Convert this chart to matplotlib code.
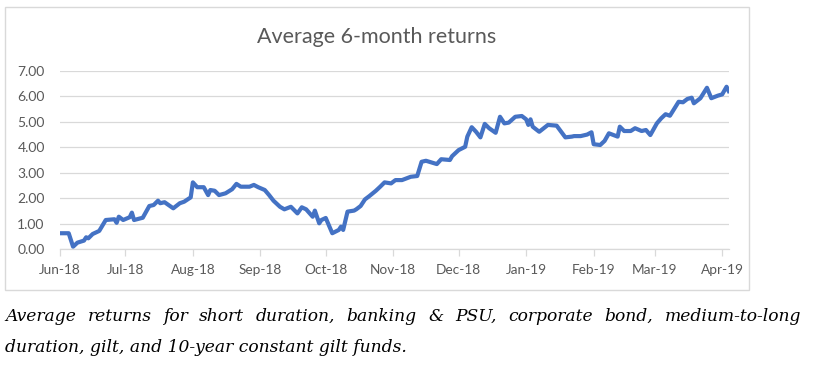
import numpy as np
import pandas as pd
import matplotlib
matplotlib.use("Agg")
import matplotlib.pyplot as plt
import matplotlib.dates as mdates
from matplotlib.patches import Rectangle

# values
DATES = [
    "2018-06-01", "2018-06-05", "2018-06-07", "2018-06-09", "2018-06-12", "2018-06-13",
    "2018-06-14", "2018-06-16", "2018-06-19", "2018-06-22", "2018-06-26", "2018-06-27",
    "2018-06-28", "2018-06-30", "2018-07-03", "2018-07-04", "2018-07-05", "2018-07-09",
    "2018-07-12", "2018-07-14", "2018-07-16", "2018-07-17", "2018-07-19", "2018-07-23",
    "2018-07-26", "2018-07-28", "2018-07-31", "2018-08-01", "2018-08-03", "2018-08-06",
    "2018-08-08", "2018-08-09", "2018-08-11", "2018-08-13", "2018-08-16", "2018-08-19",
    "2018-08-21", "2018-08-23", "2018-08-27", "2018-08-29", "2018-08-31", "2018-09-03",
    "2018-09-05", "2018-09-07", "2018-09-10", "2018-09-12", "2018-09-15", "2018-09-18",
    "2018-09-20", "2018-09-22", "2018-09-25", "2018-09-26", "2018-09-28", "2018-09-29",
    "2018-10-01", "2018-10-04", "2018-10-07", "2018-10-08", "2018-10-09", "2018-10-11",
    "2018-10-14", "2018-10-15", "2018-10-17", "2018-10-19", "2018-10-21", "2018-10-24",
    "2018-10-26", "2018-10-28", "2018-10-31", "2018-11-02", "2018-11-05", "2018-11-09",
    "2018-11-12", "2018-11-14", "2018-11-16", "2018-11-21", "2018-11-23", "2018-11-27",
    "2018-11-28", "2018-12-01", "2018-12-04", "2018-12-05", "2018-12-07", "2018-12-09",
    "2018-12-11", "2018-12-13", "2018-12-15", "2018-12-18", "2018-12-20", "2018-12-22",
    "2018-12-24", "2018-12-27", "2018-12-30", "2019-01-01", "2019-01-02", "2019-01-03",
    "2019-01-04", "2019-01-07", "2019-01-11", "2019-01-15", "2019-01-19", "2019-01-22",
    "2019-01-23", "2019-01-26", "2019-01-29", "2019-01-31", "2019-02-01", "2019-02-04",
    "2019-02-06", "2019-02-08", "2019-02-12", "2019-02-13", "2019-02-15", "2019-02-18",
    "2019-02-20", "2019-02-23", "2019-02-25", "2019-02-27", "2019-03-02", "2019-03-04",
    "2019-03-06", "2019-03-08", "2019-03-12", "2019-03-14", "2019-03-16", "2019-03-18",
    "2019-03-19", "2019-03-22", "2019-03-25", "2019-03-27", "2019-03-30", "2019-04-01",
    "2019-04-03", "2019-04-04",
]
RETURNS = [
    0.62, 0.62, 0.09, 0.25, 0.33, 0.46,
    0.42, 0.59, 0.71, 1.14, 1.17, 1.03,
    1.27, 1.14, 1.25, 1.43, 1.14, 1.23,
    1.69, 1.73, 1.90, 1.80, 1.84, 1.60,
    1.80, 1.86, 2.03, 2.62, 2.43, 2.43,
    2.12, 2.32, 2.29, 2.12, 2.19, 2.35,
    2.56, 2.45, 2.45, 2.52, 2.43, 2.32,
    2.12, 1.90, 1.66, 1.56, 1.66, 1.40,
    1.64, 1.56, 1.27, 1.51, 1.01, 1.14,
    1.22, 0.62, 0.75, 0.88, 0.75, 1.47,
    1.51, 1.56, 1.69, 1.95, 2.08, 2.29,
    2.45, 2.62, 2.58, 2.71, 2.71, 2.84,
    2.87, 3.43, 3.47, 3.34, 3.53, 3.50,
    3.65, 3.89, 4.02, 4.42, 4.79, 4.61,
    4.39, 4.92, 4.75, 4.57, 5.20, 4.94,
    4.97, 5.20, 5.23, 5.10, 4.88, 5.10,
    4.81, 4.61, 4.88, 4.85, 4.39, 4.42,
    4.44, 4.44, 4.50, 4.59, 4.12, 4.09,
    4.25, 4.55, 4.42, 4.81, 4.64, 4.64,
    4.75, 4.64, 4.68, 4.48, 4.94, 5.14,
    5.30, 5.24, 5.79, 5.77, 5.90, 5.95,
    5.73, 5.93, 6.34, 5.93, 6.03, 6.08,
    6.38, 6.21,
]
MONTHS = ["2018-06-01", "2018-07-01", "2018-08-01", "2018-09-01", "2018-10-01",
          "2018-11-01", "2018-12-01", "2019-01-01", "2019-02-01", "2019-03-01",
          "2019-04-01"]
Y_TICKS = [0, 1, 2, 3, 4, 5, 6, 7]

TITLE = "Average 6-month returns"
CAPTION_1 = "Average returns for short duration, banking & PSU, corporate bond, medium-to-long"
CAPTION_2 = "duration, gilt, and 10-year constant gilt funds."

LINE_COLOR = "#4472C4"
GRID_COLOR = "#D9D9D9"
TEXT_COLOR = "#595959"

W, H = 816, 370
fig = plt.figure(figsize=(W / 100, H / 100), dpi=100)

# chart border
fig.patches.append(Rectangle((5 / W, 1 - 290 / H), 744 / W, 283 / H,
                             transform=fig.transFigure, fill=False,
                             edgecolor=GRID_COLOR, lw=1))

ax = fig.add_axes([60 / W, 1 - 249 / H, 669 / W, 178 / H])
dates = pd.to_datetime(DATES)
ax.plot(dates, RETURNS, color=LINE_COLOR, lw=3.0, solid_joinstyle="round")

ax.set_xlim(pd.Timestamp("2018-06-01"), pd.Timestamp("2019-04-04 03:00"))
ax.set_ylim(0, 7)
ax.set_yticks(Y_TICKS)
ax.set_yticklabels([f"{v:.2f}" for v in Y_TICKS])
ax.set_xticks(pd.to_datetime(MONTHS))
ax.xaxis.set_major_formatter(mdates.DateFormatter("%b-%y"))

ax.grid(axis="y", color=GRID_COLOR, lw=0.9)
ax.set_axisbelow(True)
for side in ["top", "right", "left"]:
    ax.spines[side].set_visible(False)
ax.spines["bottom"].set_color(GRID_COLOR)
ax.spines["bottom"].set_linewidth(0.9)
ax.tick_params(axis="y", length=0, pad=11, labelsize=10, labelcolor=TEXT_COLOR)
ax.tick_params(axis="x", length=5, width=0.9, color=GRID_COLOR, pad=6,
               labelsize=9.8, labelcolor=TEXT_COLOR)
for lab in ax.get_xticklabels() + ax.get_yticklabels():
    lab.set_family(["Lato", "DejaVu Sans"])

fig.text(377 / W, 1 - 37 / H, TITLE, ha="center", va="center", fontsize=15.5,
         color=TEXT_COLOR, family=["Lato", "DejaVu Sans"])

# caption: first line justified across the width
cap_kw = dict(fontsize=12.3, style="italic", family="DejaVu Serif", color="black",
              va="baseline")
words = CAPTION_1.split(" ")
texts = [fig.text(0, 1 - 321 / H, w, **cap_kw) for w in words]
fig.canvas.draw()
renderer = fig.canvas.get_renderer()
widths = [t.get_window_extent(renderer).width for t in texts]
left, right = 5, 801
gap = (right - left - sum(widths)) / (len(words) - 1)
x = left
for t, w in zip(texts, widths):
    t.set_x(x / W)
    x += w + gap
fig.text(left / W, 1 - 352 / H, CAPTION_2, **cap_kw)

fig.savefig("out.png", dpi=100)
